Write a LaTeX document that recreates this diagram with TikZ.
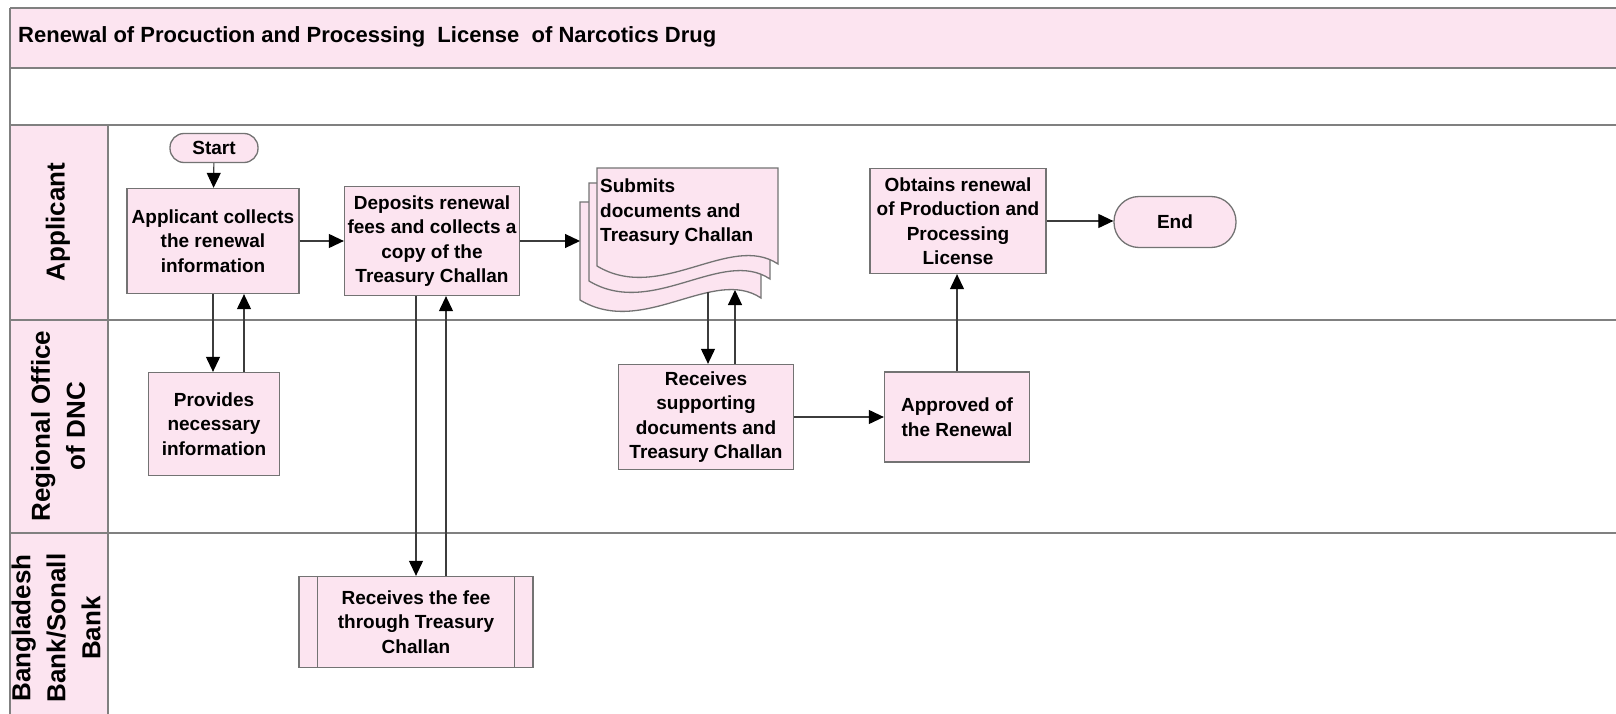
\documentclass[tikz,border=0pt]{standalone}
\usepackage{fontspec}
\setmainfont{Liberation Sans}
\usetikzlibrary{arrows.meta}
\definecolor{lanepink}{RGB}{252,228,240}
\definecolor{rulegray}{RGB}{128,128,128}
\definecolor{boxgray}{RGB}{115,115,115}
\definecolor{linkgray}{RGB}{60,60,60}
\newcommand\boxfont{\bfseries\fontsize{19pt}{24.5pt}\selectfont}
\newcommand\lanefont{\bfseries\fontsize{26pt}{35pt}\selectfont}
\newcommand\titlefont{\bfseries\fontsize{22pt}{25pt}\selectfont}
\tikzset{
  stepbox/.style={draw=boxgray, fill=lanepink, line width=1.3pt, align=center, inner sep=0pt, font=\boxfont},
  lanelabel/.style={rotate=90, align=center, inner sep=0pt, font=\lanefont},
  lanerule/.style={draw=rulegray, line width=1.8pt},
  docpage/.style={draw=boxgray, fill=lanepink, line width=1.3pt},
  link/.style={draw=linkgray, line width=1.1pt, -{Triangle[length=15pt,width=14pt,color=black]}}
}
\begin{document}
\begin{tikzpicture}[x=1pt,y=-1pt]
\useasboundingbox (0,0) rectangle (1616,714);
%% pool and lanes
\fill[lanepink] (10,8) rectangle (1616,68);
\fill[lanepink] (10,125) rectangle (108,714);
\foreach \y in {8,68,125,320,533}
  \draw[lanerule] (10,\y) -- (1616,\y);
\draw[lanerule] (10,8) -- (10,714);
\draw[lanerule] (108,125) -- (108,714);
\node[anchor=base west, inner sep=0pt, font=\titlefont] (title) at (18,43)
  {Renewal of Procuction and Processing\ \ License\ \ of Narcotics Drug};
\node[lanelabel] (applicant) at (58,222) {Applicant};
\node[lanelabel] (regional) at (58,426) {Regional Office\\of DNC};
\node[lanelabel] (bank) at (56,628) {Bangladesh\\Bank/Sonall\\Bank};

%% steps
\node[stepbox, minimum width=88pt, minimum height=29pt, rounded corners=14pt] (start) at (214,148) {Start};
\node[stepbox, minimum width=172pt, minimum height=105pt] (collect) at (213,241) {Applicant collects\\the renewal\\information};
\node[stepbox, minimum width=175pt, minimum height=109pt] (deposit) at (432,241) {Deposits renewal\\fees and collects a\\copy of the\\Treasury Challan};
\node[stepbox, minimum width=176pt, minimum height=105pt] (obtain) at (958,221) {Obtains renewal\\of Production and\\Processing\\License};
\node[stepbox, minimum width=122pt, minimum height=51pt, rounded corners=25pt] (finish) at (1175,222) {End};
\node[stepbox, minimum width=131pt, minimum height=103pt] (provide) at (214,424) {Provides\\necessary\\information};
\node[stepbox, minimum width=175pt, minimum height=105pt] (recvdoc) at (706,417) {Receives\\supporting\\documents and\\Treasury Challan};
\node[stepbox, minimum width=145pt, minimum height=90pt] (approve) at (957,417) {Approved of\\the Renewal};
\node[stepbox, minimum width=234pt, minimum height=91pt] (fee) at (416,622) {Receives the fee\\through Treasury\\Challan};
\draw[boxgray, line width=1.3pt] ([xshift=19pt]fee.north west) -- ([xshift=19pt]fee.south west);
\draw[boxgray, line width=1.3pt] ([xshift=-19pt]fee.north east) -- ([xshift=-19pt]fee.south east);

%% multi document
\foreach \dx/\dy in {-17/34,-8/15,0/0}
  \filldraw[docpage, shift={(\dx,\dy)}] (597,168) -- (778,168) -- (778,264)
    .. controls (730,232) and (660,304) .. (597,266) -- cycle;
\node[anchor=north west, align=left, inner sep=0pt, font=\boxfont] (submit) at (600,179) {Submits\\documents and\\Treasury Challan};
\coordinate (subedge) at (580,242);
\coordinate (subout) at (708,292);
\coordinate (subin) at (735,290);

%% links
\draw[link] (start) -- (collect);
\draw[link] (collect.east) -- (collect.east -| deposit.west);
\draw[link] (deposit.east) -- (deposit.east -| subedge);
\draw[link] (collect.south) -- (collect.south |- provide.north);
\draw[link] ([xshift=30pt]provide.north) -- ([xshift=30pt]provide.north |- collect.south);
\draw[link] (deposit.south -| fee.north) -- (fee.north);
\draw[link] ([xshift=30pt]fee.north) -- ([xshift=30pt]fee.north |- deposit.south);
\draw[link] (subout) -- (subout |- recvdoc.north);
\draw[link] (recvdoc.north -| subin) -- (subin);
\draw[link] (recvdoc.east) -- (recvdoc.east -| approve.west);
\draw[link] (approve.north) -- (approve.north |- obtain.south);
\draw[link] (obtain.east) -- (obtain.east -| finish.west);
\end{tikzpicture}
\end{document}
